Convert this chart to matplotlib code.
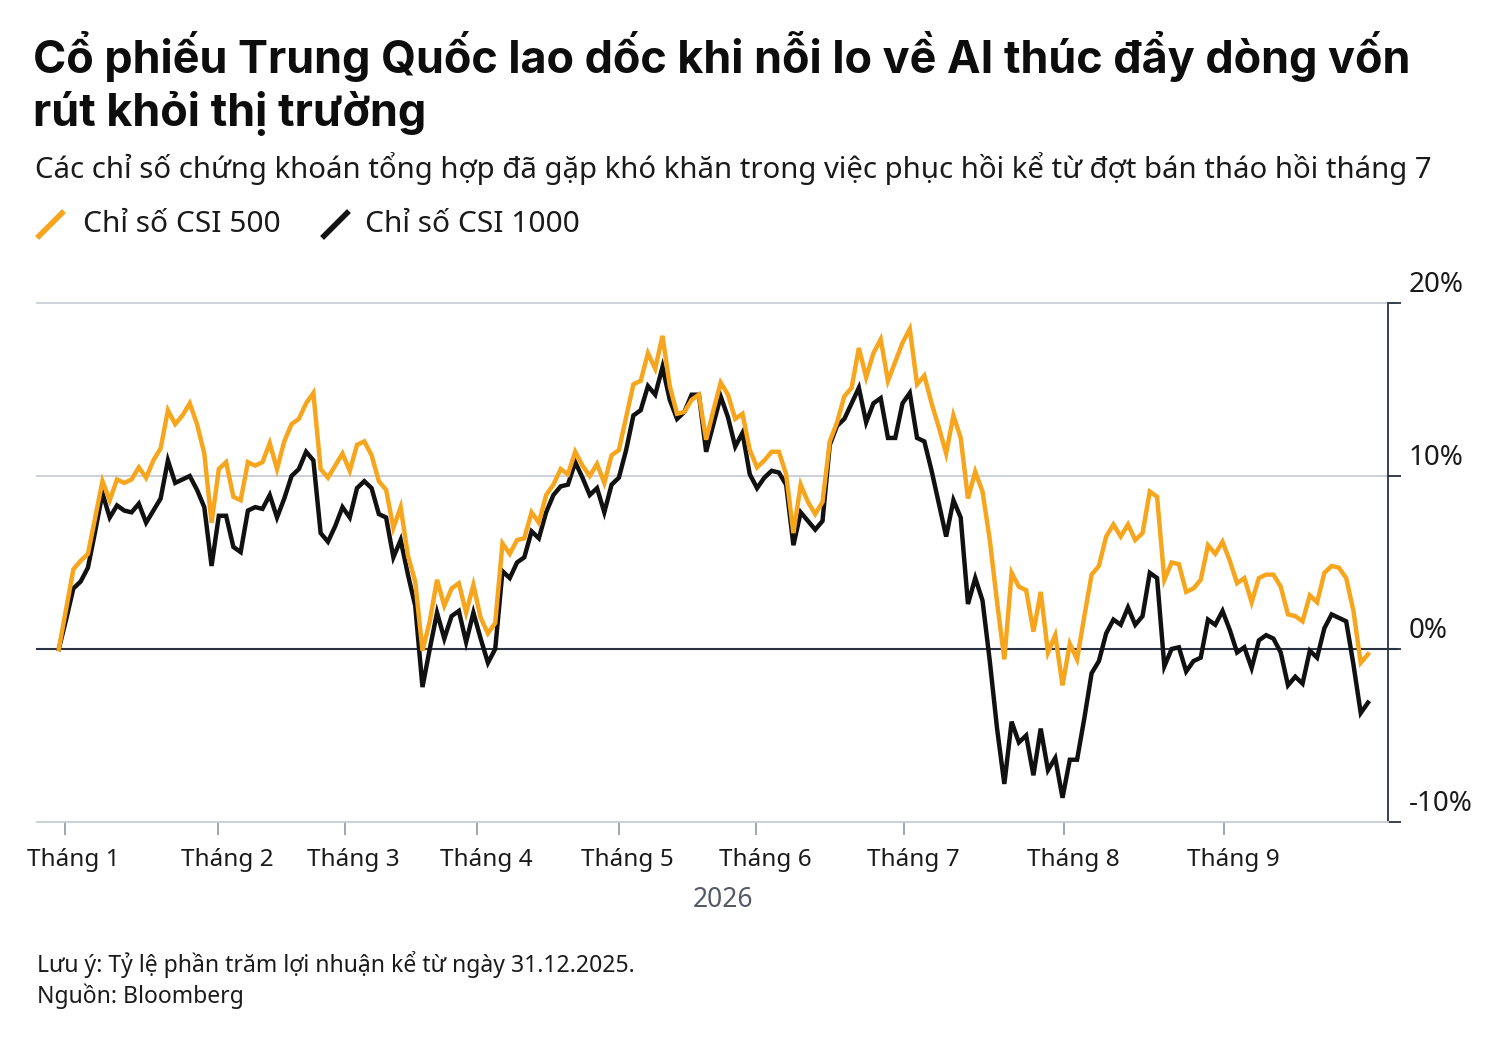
import matplotlib
matplotlib.use("Agg")
import matplotlib.pyplot as plt
from matplotlib.lines import Line2D
from matplotlib.transforms import ScaledTranslation

# Lợi nhuận (%) kể từ 31.12.2025, theo phiên giao dịch
csi500 = [
    0.0, 2.3, 4.6, 5.1, 5.5, 7.6, 9.7, 8.6, 9.8, 9.6, 9.8, 10.5, 9.9, 10.9, 11.6, 13.8,
    13.0, 13.5, 14.2, 13.0, 11.3, 7.3, 10.4, 10.8, 8.8, 8.6, 10.8, 10.6, 10.8, 11.9, 10.4,
    12.0, 13.0, 13.3, 14.2, 14.8, 10.4, 9.9, 10.6, 11.3, 10.3, 11.8, 12.0, 11.2, 9.7, 9.2,
    7.0, 8.2, 5.4, 3.9, -0.1, 1.6, 4.0, 2.5, 3.5, 3.8, 2.1, 3.7, 1.8, 0.9, 1.5, 6.1, 5.5,
    6.3, 6.4, 7.9, 7.3, 8.9, 9.5, 10.4, 10.1, 11.4, 10.6, 10.0, 10.7, 9.6, 11.2, 11.5, 13.4,
    15.3, 15.5, 17.1, 16.2, 18.1, 15.2, 13.6, 13.7, 14.4, 14.7, 12.1, 13.8, 15.4, 14.7, 13.3,
    13.6, 11.5, 10.5, 10.9, 11.4, 11.4, 10.1, 6.7, 9.5, 8.5, 7.8, 8.5, 12.0, 13.1, 14.6,
    15.1, 17.4, 15.7, 17.1, 17.9, 15.5, 16.6, 17.7, 18.5, 15.3,
    15.8, 14.2, 12.8, 11.3, 13.5, 12.2, 8.7, 10.25, 9.1, 6.3, 2.7, -0.6, 4.4, 3.6, 3.4, 1.0,
    3.3, -0.2, 0.8, -2.1, 0.3, -0.6, 1.9, 4.3, 4.8, 6.5, 7.2, 6.5, 7.2, 6.3, 6.7, 9.1, 8.8,
    4.0, 5.0, 4.9, 3.3, 3.5, 4.0, 6.0, 5.5, 6.2, 5.1, 3.8, 4.1, 2.7, 4.1, 4.3, 4.3, 3.6,
    2.0, 1.9, 1.6, 3.1, 2.7, 4.4, 4.8, 4.7, 4.1, 2.2, -0.8, -0.3,
]
csi1000 = [
    0.0, 1.7, 3.5, 3.9, 4.7, 6.8, 9.0, 7.6, 8.3, 8.0, 7.9, 8.4, 7.3, 8.0, 8.7, 10.9,
    9.6, 9.8, 10.0, 9.2, 8.2, 4.8, 7.7, 7.7, 5.9, 5.6, 8.0, 8.2, 8.1, 8.9, 7.6,
    8.7, 10.0, 10.4, 11.4, 10.9, 6.7, 6.2, 7.1, 8.2, 7.6, 9.3, 9.7, 9.3, 7.8, 7.6,
    5.3, 6.3, 4.3, 2.5, -2.2, 0.0, 2.1, 0.6, 1.9, 2.2, 0.4, 2.1, 0.6, -0.8, 0.0, 4.5, 4.1,
    5.0, 5.3, 6.8, 6.4, 7.9, 8.9, 9.4, 9.5, 10.8, 9.9, 8.9, 9.3, 7.9, 9.5, 9.9, 11.5,
    13.5, 13.8, 15.2, 14.7, 16.3, 14.4, 13.3, 13.7, 14.7, 14.7, 11.4, 13.0, 14.6, 13.4, 11.7,
    12.5, 10.1, 9.3, 9.9, 10.3, 10.2, 9.5, 6.0, 7.9, 7.4, 6.9, 7.4, 11.8, 12.9, 13.3,
    14.2, 15.1, 13.1, 14.2, 14.5, 12.2, 12.2, 14.2, 14.8, 12.2,
    12.0, 10.3, 8.4, 6.5, 8.6, 7.6, 2.6, 4.1, 2.8, -0.7, -4.6, -7.8, -4.2, -5.4, -5.0, -7.3,
    -4.6, -7.0, -6.3, -8.6, -6.4, -6.4, -4.0, -1.4, -0.7, 0.9, 1.7, 1.4, 2.4, 1.4, 1.9, 4.4, 4.1,
    -1.0, 0.0, 0.1, -1.3, -0.7, -0.5, 1.7, 1.4, 2.2, 1.1, -0.2, 0.1, -1.1, 0.5, 0.8, 0.6, -0.2,
    -2.1, -1.6, -2.0, -0.1, -0.5, 1.2, 2.0, 1.8, 1.6, -0.9, -3.7, -3.1,
]
days = list(range(len(csi500)))

# vị trí phiên đầu tháng (chỉ số phiên) và nhãn
month_pos = [0.8, 21.9, 39.3, 57.5, 77.0, 95.9, 116.2, 138.2, 160.2]
month_labels = ["Tháng 1", "Tháng 2", "Tháng 3", "Tháng 4", "Tháng 5",
                "Tháng 6", "Tháng 7", "Tháng 8", "Tháng 9"]
y_ticks = [20, 10, 0, -10]
y_labels = ["20%", "10%", "0%", "-10%"]

ORANGE = "#f7a51c"
BLACK = "#111111"
NAVY = "#2b3242"
GRID = "#c9cdd3"

plt.rcParams["font.family"] = ["Noto Sans", "DejaVu Sans"]

W, H = 1488, 1057
fig = plt.figure(figsize=(W / 100, H / 100), dpi=100)
fig.patch.set_facecolor("white")

def fx(px):
    return px / W

def fy(py):
    return 1 - py / H

ax = fig.add_axes([fx(37), fy(822), fx(1388) - fx(37), fy(303) - fy(822)])
ax.set_xlim(-3.0, 182.75)
ax.set_ylim(-10, 20)

ax.plot(days, csi1000, color=BLACK, lw=3.2, solid_joinstyle="miter", zorder=3)
ax.plot(days, csi500, color=ORANGE, lw=3.2, solid_joinstyle="miter", zorder=4)

for v in [10, 20]:
    ax.axhline(v, xmin=0, xmax=1.007, color=GRID, lw=1.3, clip_on=False, zorder=1)
ax.axhline(0, xmin=0, xmax=1.007, color=NAVY, lw=1.5, clip_on=False, zorder=2)

for s in ["top", "left"]:
    ax.spines[s].set_visible(False)
ax.spines["right"].set_color(NAVY)
ax.spines["right"].set_linewidth(1.3)
ax.spines["bottom"].set_color(GRID)
ax.spines["bottom"].set_linewidth(1.3)

ax.yaxis.tick_right()
ax.set_yticks(y_ticks)
ax.tick_params(axis="y", direction="out", length=9, width=1.3, color=NAVY, labelright=False)
for v, lab in zip(y_ticks, y_labels):
    ax.annotate(lab, xy=(1, v), xycoords=("axes fraction", "data"),
                xytext=(15, 3), textcoords="offset points",
                ha="left", va="bottom", fontsize=20, color="#1a1a1a")

ax.set_xticks(month_pos)
ax.set_xticklabels(month_labels, fontsize=17.5, color="#1a1a1a")
ax.tick_params(axis="x", direction="out", length=9, width=1.3, color="#9aa0a8", pad=10)
shift = ScaledTranslation(9 / 100, 0, fig.dpi_scale_trans)
for lbl in ax.get_xticklabels():
    lbl.set_transform(lbl.get_transform() + shift)

fig.text(fx(723), fy(900), "2026", ha="center", va="center", fontsize=19, color="#555b66")

# tiêu đề
title_font = dict(fontsize=32.4, fontweight="bold", family=["Inter", "DejaVu Sans"],
                  color="#0d0d0d", ha="left", va="baseline")
fig.text(fx(33), fy(73), "Cổ phiếu Trung Quốc lao dốc khi nỗi lo về AI thúc đẩy dòng vốn", **title_font)
fig.text(fx(33), fy(126), "rút khỏi thị trường", **title_font)
fig.text(fx(35), fy(178), "Các chỉ số chứng khoán tổng hợp đã gặp khó khăn trong việc phục hồi kể từ đợt bán tháo hồi tháng 7",
         fontsize=21.1, color="#1a1a1a", ha="left", va="baseline")

# chú giải
fig.add_artist(Line2D([fx(39), fx(62)], [fy(236), fy(213)], color=ORANGE, lw=4))
fig.text(fx(83), fy(225), "Chỉ số CSI 500", fontsize=21.5, color="#1a1a1a", ha="left", va="center")
fig.add_artist(Line2D([fx(324), fx(347)], [fy(236), fy(213)], color=BLACK, lw=4))
fig.text(fx(365), fy(225), "Chỉ số CSI 1000", fontsize=21.5, color="#1a1a1a", ha="left", va="center")

# ghi chú
fig.text(fx(37), fy(964), "Lưu ý: Tỷ lệ phần trăm lợi nhuận kể từ ngày 31.12.2025.",
         fontsize=16.5, color="#1a1a1a", ha="left", va="center")
fig.text(fx(37), fy(996), "Nguồn: Bloomberg", fontsize=16.5, color="#1a1a1a", ha="left", va="center")

fig.savefig("out.png", dpi=100)
